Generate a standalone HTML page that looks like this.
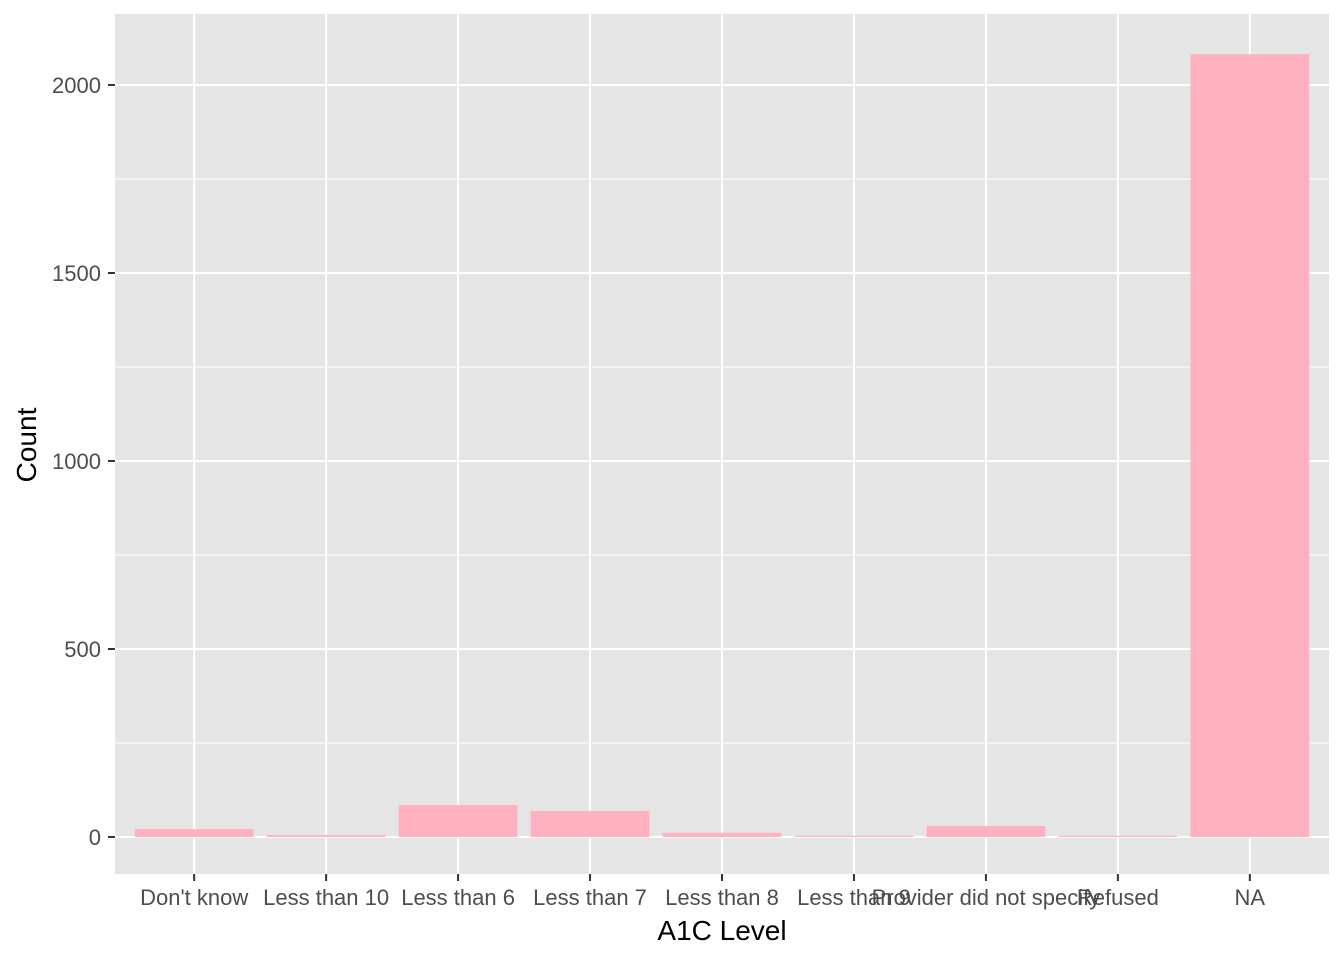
<!DOCTYPE html>
<html><head><meta charset="utf-8"><style>
body{margin:0;background:#fff;}
svg{display:block;font-family:"Liberation Sans",Arial,sans-serif;}
</style></head><body>
<svg id="chart" width="1344" height="960">
<rect x="115" y="14" width="1214" height="860" fill="#e5e5e5"/>
<g id="grid"></g><g id="bars"></g><g id="axes"></g>
<text x="722" y="940" font-size="28" text-anchor="middle" fill="#000">A1C Level</text>
<text transform="translate(36,445) rotate(-90)" font-size="28" text-anchor="middle" fill="#000">Count</text>
</svg>
<script>
const categories=["Don't know","Less than 10","Less than 6","Less than 7","Less than 8","Less than 9","Provider did not specify","Refused","NA"];
const counts=[21,5,85,69,11,3,29,3,2082];
const yTicks=[0,500,1000,1500,2000];
const yMinor=[250,750,1250,1750];
const NS="http://www.w3.org/2000/svg";
const px0=115,px1=1329,py0=874,py1=14;
const xs=i=>px0+(i+0.6)*(px1-px0)/(categories.length-1+1.2);
const bw=0.9*(px1-px0)/(categories.length-1+1.2);
const y=v=>837-v*(837-85)/2000;
function mk(t,a,p){const e=document.createElementNS(NS,t);for(const k in a)e.setAttribute(k,a[k]);p.appendChild(e);return e;}
const g=document.getElementById('grid'),b=document.getElementById('bars'),ax=document.getElementById('axes');
yMinor.forEach(v=>{const l=mk('line',{x1:px0,x2:px1,y1:y(v),y2:y(v),stroke:'#fff','stroke-width':1},g);

});
yTicks.forEach(v=>{const l=mk('line',{x1:px0,x2:px1,y1:y(v),y2:y(v),stroke:'#fff','stroke-width':2},g);


const t=mk('line',{x1:108,x2:115,y1:y(v),y2:y(v),stroke:'#333','stroke-width':2},ax);


const tx=mk('text',{x:101,y:y(v)+8,'font-size':22,'text-anchor':'end',fill:'#4d4d4d'},ax);tx.textContent=v;

});
categories.forEach((c,i)=>{const l=mk('line',{x1:xs(i),x2:xs(i),y1:py1,y2:py0,stroke:'#fff','stroke-width':2},g);


const r=mk('rect',{x:xs(i)-bw/2,y:y(counts[i]),width:bw,height:y(0)-y(counts[i]),fill:'#ffb0c1'},b);


const t=mk('line',{x1:xs(i),x2:xs(i),y1:874,y2:881,stroke:'#333','stroke-width':2},ax);


const tx=mk('text',{x:xs(i),y:905,'font-size':22,'text-anchor':'middle',fill:'#4d4d4d'},ax);tx.textContent=c;

});
</script>
</body></html>
